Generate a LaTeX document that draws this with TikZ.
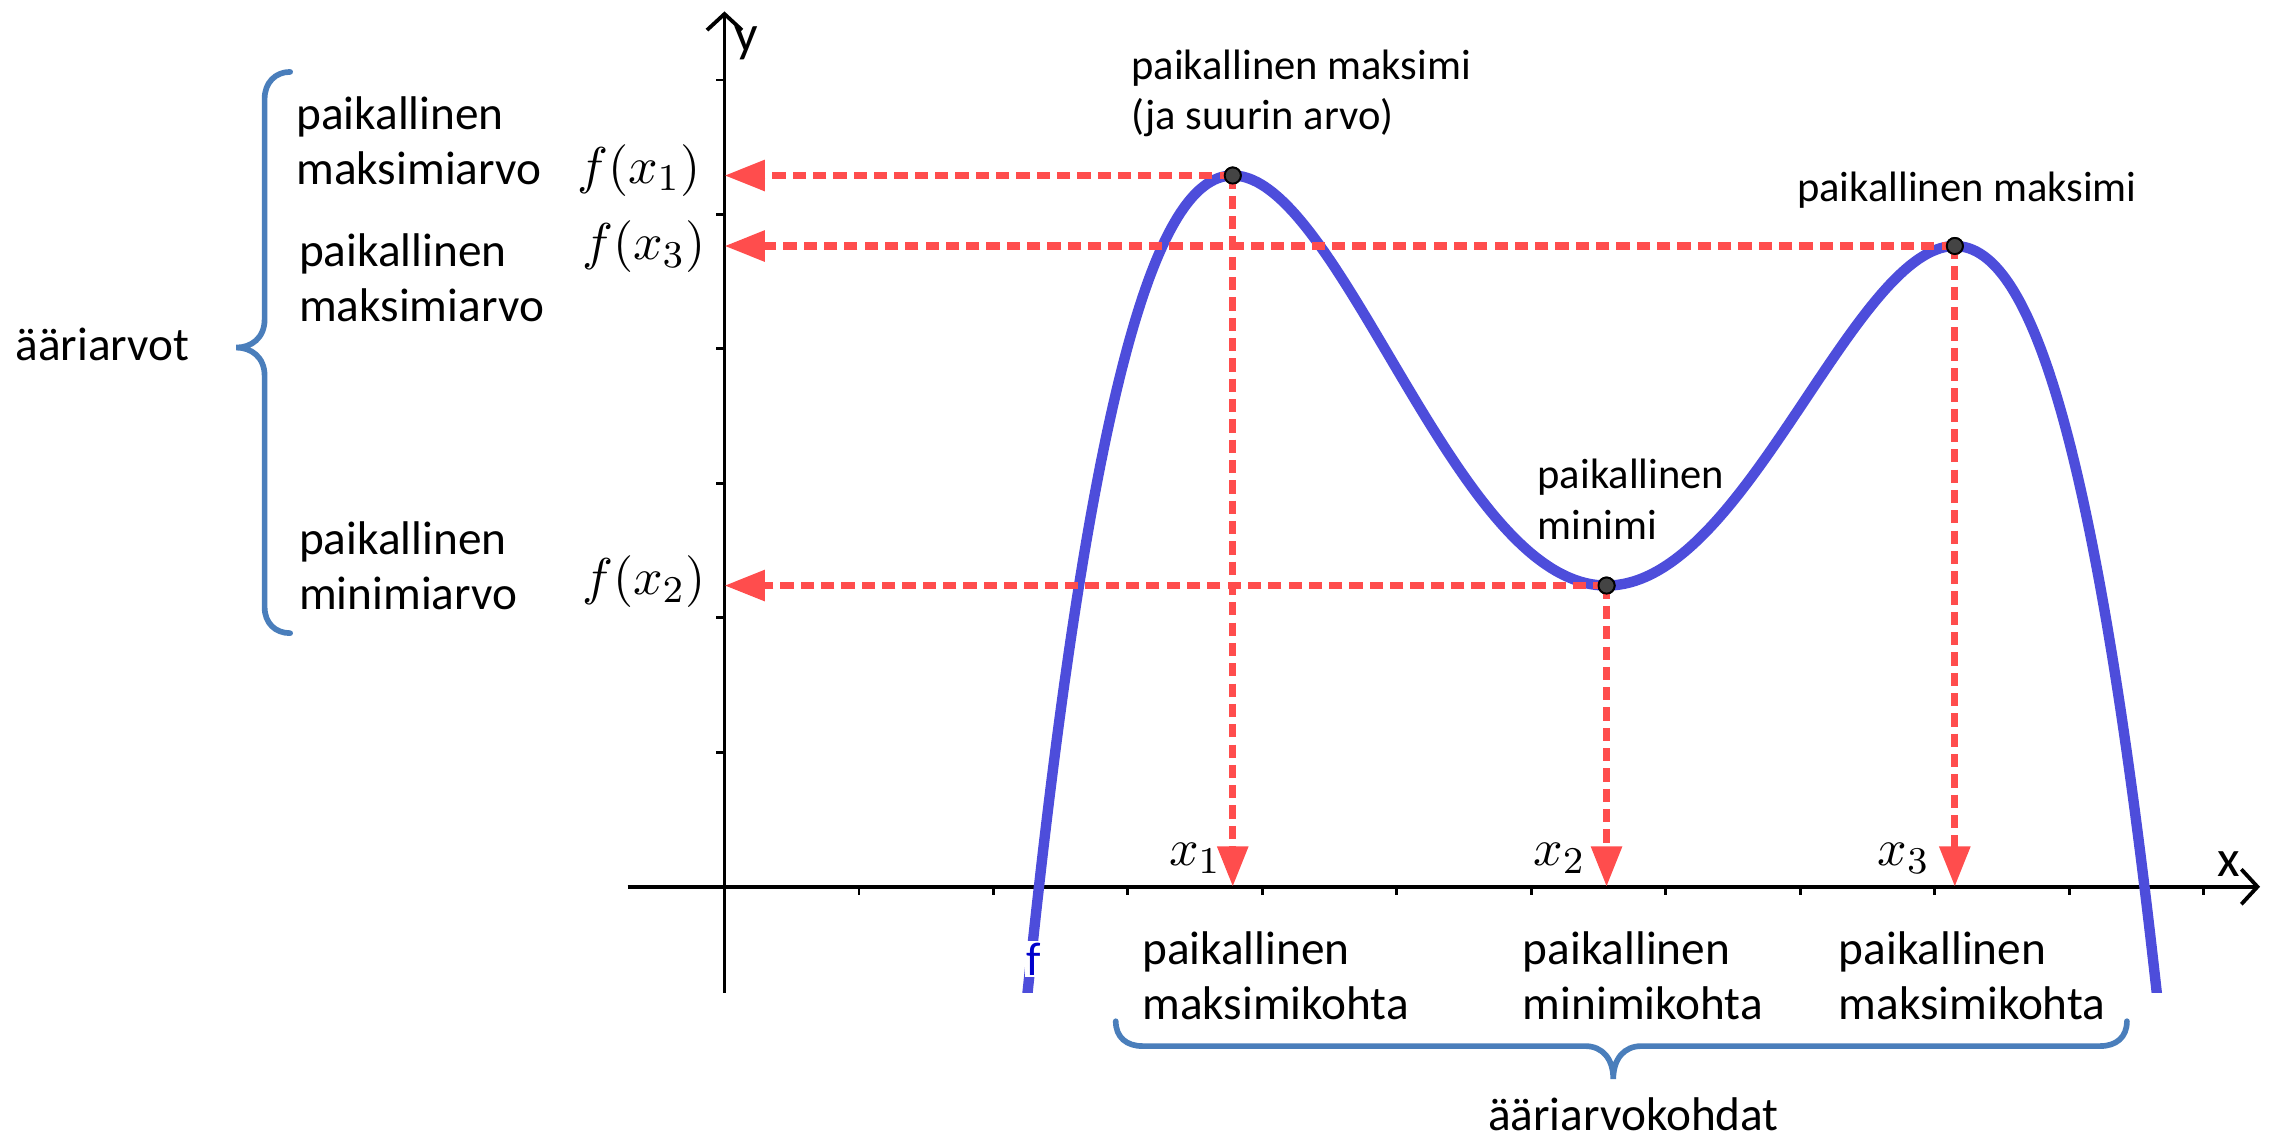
\documentclass[tikz,border=0pt]{standalone}
\usepackage{fontspec}
\setmainfont{Carlito}
\usetikzlibrary{arrows.meta}
\definecolor{curveblue}{RGB}{77,77,219}
\definecolor{dashred}{RGB}{255,77,77}
\definecolor{dotgray}{RGB}{68,68,68}
\definecolor{bracecol}{RGB}{74,126,187}
\definecolor{fblue}{RGB}{0,0,204}
\begin{document}
\begin{tikzpicture}[x=1cm,y=1cm,
  axisline/.style={line width=0.8pt, black},
  axistip/.style={-{Straight Barb[length=1.2mm,width=2.6mm,line width=0.8pt]}},
  tickline/.style={line width=0.6pt, black},
  curvestyle/.style={line width=2.2pt, curveblue},
  redarrow/.style={line width=1.5pt, dashred, dash pattern=on 2.8pt off 1.5pt,
     -{Triangle[length=3mm,width=2.2mm]}},
  dot/.style={circle, fill=dotgray, draw=black, line width=0.4pt, inner sep=0pt, minimum size=1.2mm},
  bracestyle/.style={line width=1.2pt, bracecol, line cap=round},
  lbl/.style={font=\fontsize{10}{11.6}\selectfont, align=left, inner sep=0pt},
  sm/.style={font=\fontsize{9}{10.7}\selectfont, align=left, inner sep=0pt},
  mathlbl/.style={font=\fontsize{11}{13}\selectfont, inner sep=0pt},
  axlbl/.style={font=\fontsize{11}{13}\selectfont, inner sep=0pt}
]
\useasboundingbox (-5.388,-1.875) rectangle (11.509,6.595);

% axes
\coordinate (O) at (0,0);
\coordinate (xmin) at (-0.72,0);
\coordinate (xmax) at (11.42,0);
\coordinate (ymin) at (0,-0.79);
\coordinate (ymax) at (0,6.51);
\foreach \i in {1,...,11} \draw[tickline] (\i,0) -- (\i,-0.06);
\foreach \j in {1,...,6} \draw[tickline] (0,\j) -- (-0.06,\j);
\draw[axisline, axistip] (xmin) -- (xmax);
\draw[axisline, axistip] (ymin) -- (ymax);
\node[axlbl, anchor=center] (ylab) at (0.16,6.27) {y};
\node[axlbl, anchor=center] (xlab) at (11.19,0.17) {x};

% curve
\begin{scope}
\clip (-6,-0.79) rectangle (12,7);
\draw[curvestyle] plot[variable=\t, domain=-4.36:4.14, samples=160, smooth]
  ({\t+6.56}, {2.24-0.214*(0.25*\t*\t*\t*\t+0.0633*\t*\t*\t-3.6*\t*\t)});
\end{scope}
\node[text=fblue, fill=white, inner sep=0.4pt, font=\fontsize{10}{12}\selectfont] (flab) at (2.30,-0.54) {f};

% extremum points
\node[dot] (m1) at (3.78,5.2895) {};
\node[dot] (m2) at (6.56,2.24) {};
\node[dot] (m3) at (9.15,4.7651) {};

% dashed arrows
\draw[redarrow] (m1.center) -- (m1 -| O);
\draw[redarrow] (m1.center) -- (m1 |- O);
\draw[redarrow] (m2.center) -- (m2 -| O);
\draw[redarrow] (m2.center) -- (m2 |- O);
\draw[redarrow] (m3.center) -- (m3 -| O);
\draw[redarrow] (m3.center) -- (m3 |- O);
\node[dot] at (m1) {};
\node[dot] at (m2) {};
\node[dot] at (m3) {};

% value labels
\node[mathlbl] (fx1) at (-0.636,5.33) {$f(x_1)$};
\node[mathlbl] (fx3) at (-0.60,4.76) {$f(x_3)$};
\node[mathlbl] (fx2) at (-0.60,2.27) {$f(x_2)$};
\node[mathlbl] (x1l) at (3.50,0.21) {$x_1$};
\node[mathlbl] (x2l) at (6.21,0.21) {$x_2$};
\node[mathlbl] (x3l) at (8.77,0.21) {$x_3$};

% point labels
\node[sm, anchor=west] (tmax1) at (3.02,5.90) {paikallinen maksimi\\(ja suurin arvo)};
\node[sm, anchor=west] (tmax3) at (7.97,5.18) {paikallinen maksimi};
\node[sm, anchor=west] (tmin) at (6.04,2.88) {paikallinen\\minimi};

% left labels
\node[lbl, anchor=west] (lmax1) at (-3.19,5.55) {paikallinen\\maksimiarvo};
\node[lbl, anchor=west] (lmax3) at (-3.17,4.53) {paikallinen\\maksimiarvo};
\node[lbl, anchor=west] (lmin2) at (-3.17,2.39) {paikallinen\\minimiarvo};
\node[lbl, anchor=west] (aar) at (-5.28,4.03) {ääriarvot};

% bottom labels
\node[lbl, anchor=west] (b1) at (3.10,-0.66) {paikallinen\\maksimikohta};
\node[lbl, anchor=west] (b2) at (5.93,-0.66) {paikallinen\\minimikohta};
\node[lbl, anchor=west] (b3) at (8.28,-0.66) {paikallinen\\maksimikohta};
\node[lbl] (bb) at (6.76,-1.69) {ääriarvokohdat};

% left brace
\draw[bracestyle] (-3.23,6.06) .. controls (-3.34,6.06) and (-3.42,5.98) .. (-3.42,5.86)
  -- (-3.42,4.22) .. controls (-3.42,4.08) and (-3.52,4.01) .. (-3.63,4.01)
  .. controls (-3.52,4.01) and (-3.42,3.94) .. (-3.42,3.80)
  -- (-3.42,2.08) .. controls (-3.42,1.96) and (-3.34,1.886) .. (-3.23,1.886);

% bottom brace
\draw[bracestyle] (2.91,-1.00) .. controls (2.91,-1.12) and (2.99,-1.185) .. (3.11,-1.185)
  -- (6.40,-1.185) .. controls (6.53,-1.185) and (6.61,-1.28) .. (6.61,-1.43)
  .. controls (6.61,-1.28) and (6.69,-1.185) .. (6.82,-1.185)
  -- (10.23,-1.185) .. controls (10.35,-1.185) and (10.43,-1.12) .. (10.43,-1.00);
\end{tikzpicture}
\end{document}
